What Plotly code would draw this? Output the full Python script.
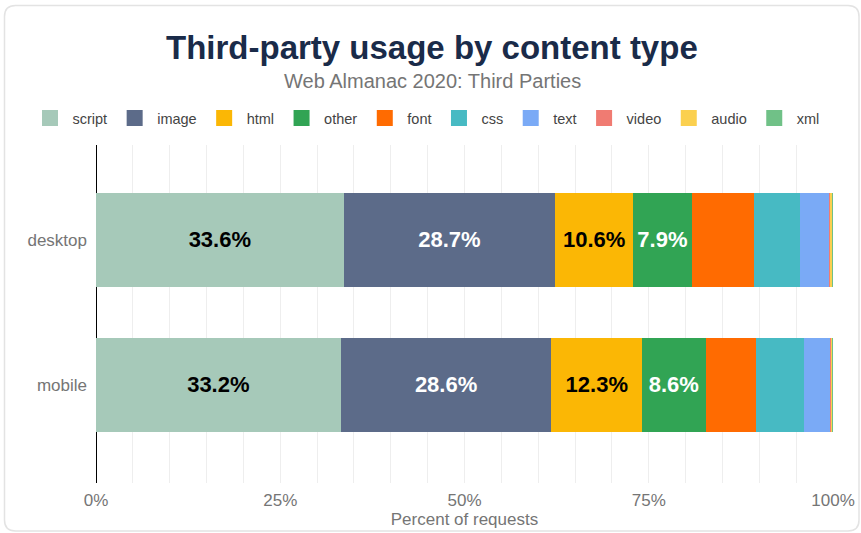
import plotly.graph_objects as go

categories = ["desktop", "mobile"]
series_names = ["script", "image", "html", "other", "font", "css", "text", "video", "audio", "xml"]
desktop_values = [33.6, 28.7, 10.6, 7.9, 8.5, 6.2, 3.9, 0.3, 0.2, 0.1]
mobile_values = [33.2, 28.6, 12.3, 8.6, 6.9, 6.4, 3.7, 0.15, 0.1, 0.05]
colors = ["#a6c9b9", "#5c6b89", "#fbb705", "#31a454", "#ff6b01", "#47bac3", "#7aaaf6", "#f07b72", "#fbd04f", "#70c187"]
label_colors = ["#000000", "#ffffff", "#000000", "#ffffff"]
x_tick_values = [0, 25, 50, 75, 100]
x_tick_labels = ["0%", "25%", "50%", "75%", "100%"]

FONT = "Liberation Sans, Arial, Helvetica, sans-serif"
W, H = 861, 533
L, R, T, B = 96, 28, 145, 50
pw, ph = W - L - R, H - T - B

def px(x):
    return (x - L) / pw

def py(y):
    return (H - B - y) / ph

fig = go.Figure()
for i, name in enumerate(series_names):
    vals = [desktop_values[i], mobile_values[i]]
    show_label = i < 4
    fig.add_trace(go.Bar(
        name=name,
        legendgroup=name,
        showlegend=False,
        y=categories,
        x=vals,
        orientation="h",
        marker=dict(color=colors[i], line=dict(width=0)),
        width=0.65,
        text=[f"{v:.1f}%" for v in vals] if show_label else None,
        textposition="inside" if show_label else "none",
        insidetextanchor="middle",
        textfont=dict(family=FONT, size=22,
                      color=label_colors[i] if show_label else "#000"),
        texttemplate="<b>%{text}</b>" if show_label else None,
        hoverinfo="x+name",
    ))

# legend entries (square swatches)
for i, name in enumerate(series_names):
    fig.add_trace(go.Scatter(
        name=name,
        legendgroup=name,
        x=[None], y=[None],
        mode="markers",
        marker=dict(symbol="square", size=16, color=colors[i]),
        showlegend=True,
        hoverinfo="skip",
    ))

fig.update_layout(
    barmode="stack",
    width=W, height=H,
    margin=dict(l=L, r=R, t=T, b=B, pad=0, autoexpand=False),
    paper_bgcolor="white",
    plot_bgcolor="white",
    font=dict(family=FONT, color="#757575"),
    uniformtext=dict(mode="show", minsize=10),
    showlegend=True,
    legend=dict(
        orientation="h",
        x=px(27.5), xanchor="left",
        y=py(118), yanchor="middle",
        font=dict(size=14.5, color="#444444", family=FONT),
        itemsizing="trace",
        itemwidth=35,
        traceorder="normal",
        bgcolor="rgba(0,0,0,0)",
    ),
    xaxis=dict(
        range=[0, 100],
        tickvals=x_tick_values,
        ticktext=x_tick_labels,
        tickfont=dict(size=17, color="#757575"),
        showgrid=True,
        gridcolor="#eeeeee",
        gridwidth=1,
        minor=dict(dtick=5, showgrid=True, gridcolor="#eeeeee", gridwidth=1),
        zeroline=True,
        zerolinecolor="#000000",
        zerolinewidth=1,
        ticks="",
        ticklabelstandoff=5,
        automargin=False,
        title=dict(text="Percent of requests", font=dict(size=17, color="#757575"), standoff=4),
        fixedrange=True,
    ),
    yaxis=dict(
        range=[1.676, -0.655],
        tickfont=dict(size=17, color="#757575"),
        showgrid=False,
        ticks="",
        ticklabelstandoff=8,
        automargin=False,
        fixedrange=True,
    ),
    annotations=[
        dict(text="<b>Third-party usage by content type</b>", xref="paper", yref="paper",
             x=px(432), y=py(47), xanchor="center", yanchor="middle", showarrow=False,
             font=dict(size=33, color="#1a2b49", family=FONT)),
        dict(text="Web Almanac 2020: Third Parties", xref="paper", yref="paper",
             x=px(432), y=py(80.5), xanchor="center", yanchor="middle", showarrow=False,
             font=dict(size=20, color="#757575", family=FONT)),
    ],
)

# rounded border around the card
x0, x1, y0, y1, r = 4.5, 859, 5.5, 531, 11
path = (f"M {px(x0+r)},{py(y0)} L {px(x1-r)},{py(y0)} Q {px(x1)},{py(y0)} {px(x1)},{py(y0+r)} "
        f"L {px(x1)},{py(y1-r)} Q {px(x1)},{py(y1)} {px(x1-r)},{py(y1)} "
        f"L {px(x0+r)},{py(y1)} Q {px(x0)},{py(y1)} {px(x0)},{py(y1-r)} "
        f"L {px(x0)},{py(y0+r)} Q {px(x0)},{py(y0)} {px(x0+r)},{py(y0)} Z")
fig.add_shape(type="path", path=path, xref="paper", yref="paper",
              line=dict(color="#e3e3e3", width=1.5), layer="below")

fig.write_html("out.html", config={"displayModeBar": False},
               post_script="document.body.style.margin='0';")
